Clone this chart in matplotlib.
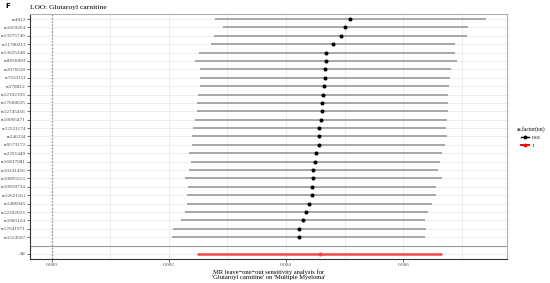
import matplotlib
matplotlib.use('Agg')
import matplotlib.pyplot as plt
from matplotlib.lines import Line2D

plt.rcParams['font.family'] = ['Liberation Serif', 'DejaVu Serif']

# SNP labels from top to bottom
snps = ['rs4812', 'rs1059264', 'rs13375749', 'rs11780213', 'rs13625248', 'rs8056893',
        'rs2076630', 'rs7633111', 'rs578812', 'rs12192193', 'rs17608635', 'rs12745456',
        'rs10005471', 'rs12521174', 'rs246234', 'rs9573172', 'rs2291449', 'rs16837081',
        'rs10241456', 'rs10895513', 'rs10918734', 'rs12621161', 'rs1486945', 'rs12202023',
        'rs1981124', 'rs17641971', 'rs1524507']

b = [5.091, 5.013, 4.933, 4.796, 4.689, 4.677, 4.672, 4.660, 4.648, 4.631, 4.614, 4.614,
     4.604, 4.569, 4.563, 4.558, 4.506, 4.494, 4.467, 4.460, 4.447, 4.438, 4.399, 4.341,
     4.290, 4.222, 4.216]
lo = [2.784, 2.926, 2.772, 2.716, 2.512, 2.443, 2.529, 2.529, 2.529, 2.489, 2.472, 2.472,
      2.443, 2.414, 2.397, 2.397, 2.346, 2.370, 2.346, 2.273, 2.329, 2.312, 2.312, 2.273,
      2.213, 2.063, 2.046]
hi = [7.405, 7.103, 7.093, 6.881, 6.876, 6.911, 6.808, 6.796, 6.774, 6.769, 6.762, 6.762,
      6.752, 6.735, 6.749, 6.711, 6.667, 6.633, 6.599, 6.655, 6.552, 6.564, 6.484, 6.428,
      6.377, 6.382, 6.377]
b = [v / 1000 for v in b]
lo = [v / 1000 for v in lo]
hi = [v / 1000 for v in hi]

all_b, all_lo, all_hi = 0.004575, 0.002483, 0.006667

xticks = [0.000, 0.002, 0.004, 0.006]
legend_labels = ['0.01', '1']

fig = plt.figure(figsize=(5.5, 2.83), dpi=100)
ax = fig.add_axes([30 / 550, 1 - 259 / 283, 477 / 550, 245 / 283])

n = len(snps)
ys = list(range(n))
all_y = n + 1

# grid
for x in [0.001, 0.002, 0.003, 0.004, 0.005, 0.006, 0.007, 0.0]:
    ax.axvline(x, color='#ebebeb', lw=0.6, zorder=0)
for y in ys + [n, all_y]:
    ax.axhline(y, color='#ebebeb', lw=0.6, zorder=0)

ax.axvline(0, color='#999999', lw=1.0, ls=(0, (1.2, 1.2)), zorder=1)
ax.axhline(n, color='#999999', lw=0.8, zorder=1)

ax.hlines(ys, lo, hi, color='#a0a0a0', lw=1.3, zorder=2)
ax.plot(b, ys, 'o', color='black', ms=1.9, zorder=3)
ax.hlines(all_y, all_lo, all_hi, color='#f04848', lw=1.8, zorder=2)
ax.plot(all_b, all_y, 'o', color='#f04848', ms=1.9, zorder=3)

ax.set_xlim(-0.00037, 0.00777)
ax.set_ylim(all_y + 0.6, -0.6)
ax.set_yticks(ys + [all_y])
ax.set_yticklabels(snps + ['All'], fontsize=3.8, color='#4d4d4d')
ax.set_xticks(xticks)
ax.set_xticklabels(['0.000', '0.002', '0.004', '0.006'], fontsize=3.8, color='#4d4d4d')
ax.tick_params(length=2, width=0.5, color='#333333', pad=0.8)

for s in ['top', 'right']:
    ax.spines[s].set_color('#b0b0b0')
    ax.spines[s].set_linewidth(0.8)
for s in ['left', 'bottom']:
    ax.spines[s].set_color('#333333')
    ax.spines[s].set_linewidth(0.8)

ax.set_xlabel("MR leave\u2212one\u2212out sensitivity analysis for\n'Glutaroyl carnitine' on 'Multiple Myeloma'",
              fontsize=4.7, labelpad=1.5, linespacing=1.12)

fig.text(5 / 550, 1 - 6 / 283, 'F', fontsize=5.2, fontweight='bold', family='DejaVu Sans',
         va='center', ha='left')
fig.text(30 / 550, 1 - 7 / 283, 'LOO: Glutaroyl carnitine', fontsize=5.4, va='center', ha='left')

handles = [Line2D([0], [0], color='black', lw=1.0, marker='o', ms=1.8),
           Line2D([0], [0], color='red', lw=1.4, marker='o', ms=1.8)]
fig.legend(handles, legend_labels, title='as.factor(tot)', loc='center left',
           bbox_to_anchor=(514 / 550, 1 - 137 / 283), frameon=False, fontsize=3.8,
           title_fontsize=4.0, handlelength=1.5, handletextpad=0.6, labelspacing=0.6,
           borderpad=0)

fig.savefig('out.png', dpi=100)
